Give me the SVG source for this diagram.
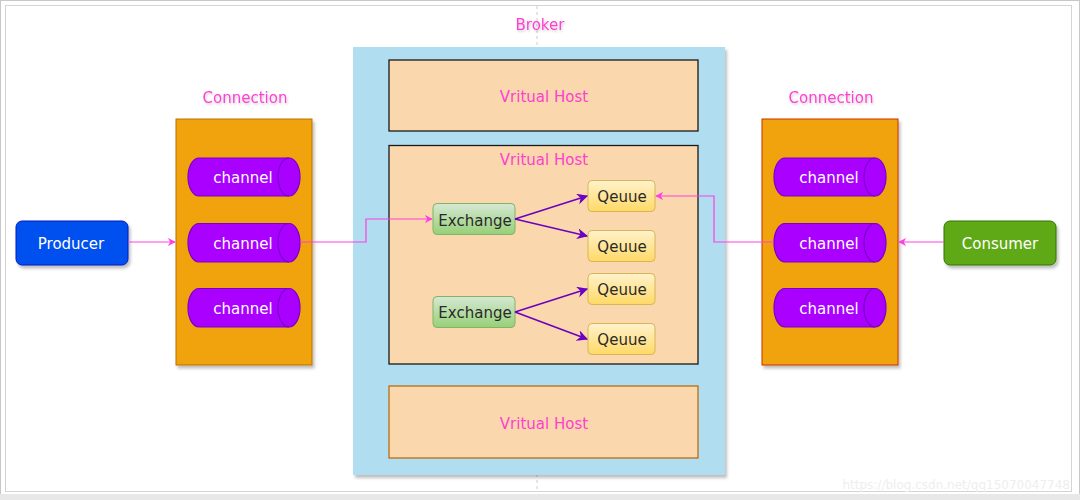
<svg xmlns="http://www.w3.org/2000/svg" width="1080" height="500" viewBox="0 0 1080 500">
<defs>
  <style>
    .lbl{font-family:"DejaVu Sans","Liberation Sans",sans-serif;font-size:15px;text-anchor:middle;dominant-baseline:central}
    .pink{fill:#ff40d0}
    .white{fill:#ffffff}
    .dark{fill:#2a2a2a}
    .vh{fill:#fad7ac}
    .chan{fill:#aa00ff;stroke:#7a00c8;stroke-width:1.2}
    .cap{fill:none;stroke:#7a00c8;stroke-width:1.2}
    .conn{fill:none;stroke:#ff40e0;stroke-width:1.2}
    .route{fill:none;stroke:#6a00c0;stroke-width:1.5}
    .ex{fill:url(#gGreen);stroke:#82b366;stroke-width:1}
    .q{fill:url(#gYellow);stroke:#d6b656;stroke-width:1}
  </style>
  <linearGradient id="gGreen" x1="0" y1="0" x2="0" y2="1">
    <stop offset="0" stop-color="#d5e8d4"/>
    <stop offset="1" stop-color="#97d077"/>
  </linearGradient>
  <linearGradient id="gYellow" x1="0" y1="0" x2="0" y2="1">
    <stop offset="0" stop-color="#fff2cc"/>
    <stop offset="1" stop-color="#ffd966"/>
  </linearGradient>
  <filter id="sh" x="-10%" y="-10%" width="130%" height="130%">
    <feDropShadow dx="2" dy="3" stdDeviation="1.5" flood-color="#000" flood-opacity="0.25"/>
  </filter>
  <filter id="tsh" x="-10%" y="-30%" width="120%" height="160%">
    <feDropShadow dx="1" dy="1.5" stdDeviation="1" flood-color="#000" flood-opacity="0.2"/>
  </filter>
  <marker id="aPink" viewBox="0 0 10 10" refX="9" refY="5" markerWidth="8" markerHeight="8" markerUnits="userSpaceOnUse" orient="auto">
    <path d="M0,0 L10,5 L0,10 L3,5 Z" fill="#ff40e0"/>
  </marker>
  <marker id="aPurple" viewBox="0 0 10 10" refX="9" refY="5" markerWidth="11" markerHeight="11" markerUnits="userSpaceOnUse" orient="auto">
    <path d="M0,0 L10,5 L0,10 L3,5 Z" fill="#6a00c0"/>
  </marker>
</defs>

<!-- frame -->
<rect x="0.5" y="0.5" width="1079" height="499" fill="#ffffff" stroke="#c8c8c8"/>
<rect x="0" y="494" width="1080" height="6" fill="#e8e8e8"/>
<rect x="5.5" y="5.5" width="1066" height="486" fill="#ffffff" stroke="#d4d4d4"/>
<line x1="537" y1="6" x2="537" y2="491" stroke="#cccccc" stroke-dasharray="3,3"/>

<!-- broker -->
<g id="broker">
  <rect x="353" y="47" width="372" height="428" fill="#b1ddf0" filter="url(#sh)"/>
  <text class="lbl pink" x="540" y="25" filter="url(#tsh)">Broker</text>
</g>

<g id="vhost1">
  <rect class="vh" x="389" y="60" width="309" height="71" stroke="#1a1a1a" stroke-width="1.3"/>
  <text class="lbl pink" x="544" y="97">Vritual Host</text>
</g>
<g id="vhost2">
  <rect class="vh" x="389" y="145.5" width="309" height="218.5" stroke="#1a1a1a" stroke-width="1.3"/>
  <text class="lbl pink" x="544" y="160">Vritual Host</text>
</g>
<g id="vhost3">
  <rect class="vh" x="389" y="386" width="309" height="72" stroke="#b46504" stroke-width="1.2"/>
  <text class="lbl pink" x="544" y="424">Vritual Host</text>
</g>

<g id="exchange1">
  <rect class="ex" x="433" y="203.5" width="82" height="31" rx="4"/>
  <text class="lbl dark" x="475" y="221">Exchange</text>
</g>
<g id="exchange2">
  <rect class="ex" x="433" y="296.5" width="82" height="31" rx="4"/>
  <text class="lbl dark" x="475" y="313">Exchange</text>
</g>
<g id="queue1">
  <rect class="q" x="588" y="180.5" width="67" height="31" rx="4"/>
  <text class="lbl dark" x="622" y="197">Qeuue</text>
</g>
<g id="queue2">
  <rect class="q" x="588" y="230.5" width="67" height="31" rx="4"/>
  <text class="lbl dark" x="622" y="247">Qeuue</text>
</g>
<g id="queue3">
  <rect class="q" x="588" y="273.5" width="67" height="31" rx="4"/>
  <text class="lbl dark" x="622" y="290">Qeuue</text>
</g>
<g id="queue4">
  <rect class="q" x="588" y="323.5" width="67" height="31" rx="4"/>
  <text class="lbl dark" x="622" y="340">Qeuue</text>
</g>

<!-- left connection -->
<g id="connection-left">
  <rect x="176" y="119" width="136" height="246" fill="#f0a30a" stroke="#bd7000" stroke-width="1" filter="url(#sh)"/>
  <text class="lbl pink" x="245" y="98" filter="url(#tsh)">Connection</text>
</g>
<g id="channel-l1">
  <path class="chan" d="M199,158 H289 A11,19 0 0 1 289,196 H199 A11,19 0 0 1 199,158 Z"/>
  <path class="cap" d="M289,158 A11,19 0 0 0 289,196"/>
  <text class="lbl white" x="243" y="178">channel</text>
</g>
<g id="channel-l2">
  <path class="chan" d="M199,223.5 H289 A11,19.25 0 0 1 289,262 H199 A11,19.25 0 0 1 199,223.5 Z"/>
  <path class="cap" d="M289,223.5 A11,19.25 0 0 0 289,262"/>
  <text class="lbl white" x="243" y="244">channel</text>
</g>
<g id="channel-l3">
  <path class="chan" d="M199,288.5 H289 A11,19.25 0 0 1 289,327 H199 A11,19.25 0 0 1 199,288.5 Z"/>
  <path class="cap" d="M289,288.5 A11,19.25 0 0 0 289,327"/>
  <text class="lbl white" x="243" y="309">channel</text>
</g>

<!-- right connection -->
<g id="connection-right">
  <rect x="762" y="119" width="136" height="246" fill="#f0a30a" stroke="#c73500" stroke-width="1" filter="url(#sh)"/>
  <text class="lbl pink" x="831" y="98" filter="url(#tsh)">Connection</text>
</g>
<g id="channel-r1">
  <path class="chan" d="M785,158 H875 A11,19 0 0 1 875,196 H785 A11,19 0 0 1 785,158 Z"/>
  <path class="cap" d="M875,158 A11,19 0 0 0 875,196"/>
  <text class="lbl white" x="829" y="178">channel</text>
</g>
<g id="channel-r2">
  <path class="chan" d="M785,223.5 H875 A11,19.25 0 0 1 875,262 H785 A11,19.25 0 0 1 785,223.5 Z"/>
  <path class="cap" d="M875,223.5 A11,19.25 0 0 0 875,262"/>
  <text class="lbl white" x="829" y="244">channel</text>
</g>
<g id="channel-r3">
  <path class="chan" d="M785,288.5 H875 A11,19.25 0 0 1 875,327 H785 A11,19.25 0 0 1 785,288.5 Z"/>
  <path class="cap" d="M875,288.5 A11,19.25 0 0 0 875,327"/>
  <text class="lbl white" x="829" y="309">channel</text>
</g>

<g id="producer">
  <rect x="16" y="221" width="112" height="44" rx="6" fill="#0050ef" stroke="#001dbc" stroke-width="1" filter="url(#sh)"/>
  <text class="lbl white" x="71" y="244">Producer</text>
</g>
<g id="consumer">
  <rect x="944" y="221" width="112" height="44" rx="6" fill="#60a917" stroke="#2d7600" stroke-width="1" filter="url(#sh)"/>
  <text class="lbl white" x="1000" y="244">Consumer</text>
</g>

<!-- connectors -->
<g id="connectors">
  <path class="conn" d="M128,242 H175" marker-end="url(#aPink)"/>
  <path class="conn" d="M300,242 H366 V219 H432" marker-end="url(#aPink)"/>
  <path class="conn" d="M944,242 H899" marker-end="url(#aPink)"/>
  <path class="conn" d="M774,242 H714 V196 H656" marker-end="url(#aPink)"/>
  <path class="route" d="M515,219 L587,196" marker-end="url(#aPurple)"/>
  <path class="route" d="M515,219 L587,236" marker-end="url(#aPurple)"/>
  <path class="route" d="M515,312 L587,289" marker-end="url(#aPurple)"/>
  <path class="route" d="M515,312 L587,339" marker-end="url(#aPurple)"/>
</g>

<text x="1070" y="489" font-family="'DejaVu Sans','Liberation Sans',sans-serif" font-size="12" fill="#eeeeee" text-anchor="end">https://blog.csdn.net/qq15070047748</text>
</svg>
